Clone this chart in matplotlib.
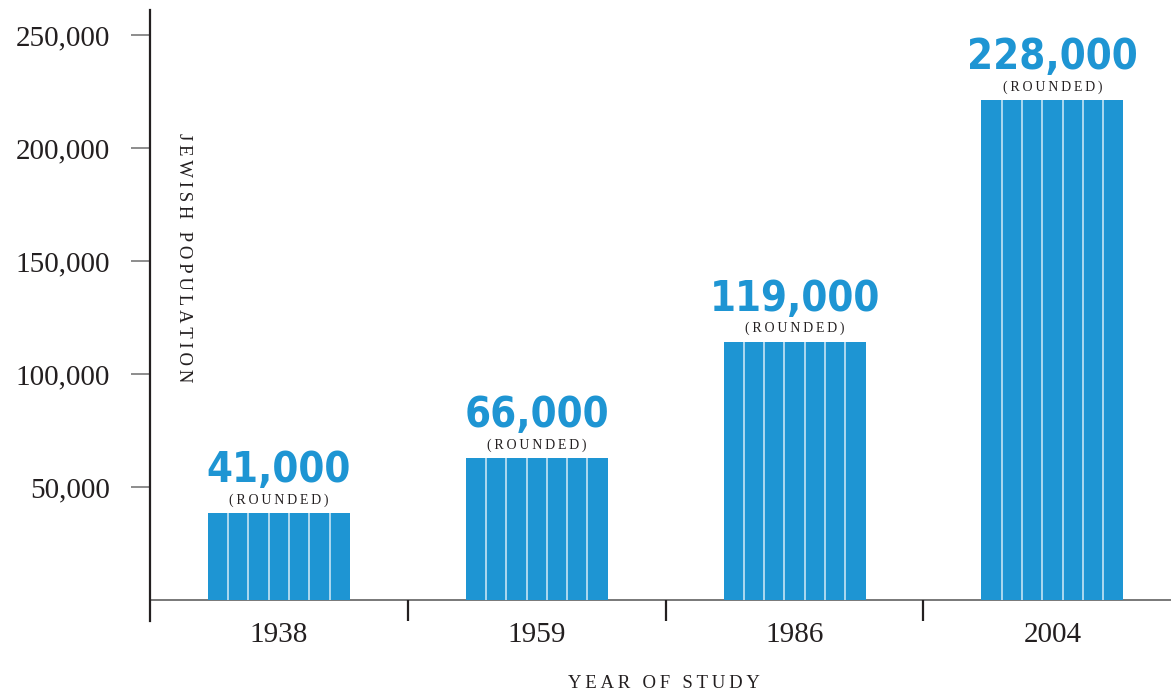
import numpy as np
import matplotlib.pyplot as plt

# data
years = ['1938', '1959', '1986', '2004']
bar_heights = [38500, 62800, 114200, 221200]
value_labels = ['41,000', '66,000', '119,000', '228,000']
y_ticks = [50000, 100000, 150000, 200000, 250000]
y_tick_labels = ['50,000', '100,000', '150,000', '200,000', '250,000']

blue = '#1e95d3'
ink = '#231f20'
serif = ['Liberation Serif', 'DejaVu Serif']

plt.rcParams['font.family'] = serif


def spaced(s):
    # letter-spaced caps, like the original typesetting
    return '\u2009'.join(s)


W, H = 1171, 692
fig = plt.figure(figsize=(W / 100, H / 100), dpi=100)
ax = fig.add_axes([150 / W, (H - 621) / H, 1021 / W, 611 / H])

ax.set_xlim(-0.5, 3.46)
ax.set_ylim(-9292, 261062)

for side in ['top', 'right', 'bottom']:
    ax.spines[side].set_visible(False)
ax.spines['left'].set_color('#231f20')
ax.spines['left'].set_linewidth(1.6)

# baseline and category separators
ax.axhline(0, color='#6d6d6d', lw=1.3, zorder=1)
x = np.arange(len(years))
ax.vlines(x[:-1] + 0.5, -9292, 0, color='#231f20', lw=1.6)

# bars with thin white dividers
bar_w = 0.551
ax.bar(x, bar_heights, width=bar_w, color=blue, zorder=2)
for xi, h in zip(x, bar_heights):
    xs = xi - bar_w / 2 + bar_w * np.arange(1, 7) / 7
    ax.vlines(xs, 0, h, color='#d4ebf7', lw=1.1, zorder=3)

    ax.annotate(value_labels[xi], (xi, h), xytext=(0, 22.3), textcoords='offset points',
                ha='center', va='baseline', fontsize=30, fontweight='bold',
                family='DejaVu Sans', fontstretch='condensed', color=blue)
    ax.annotate(spaced('(ROUNDED)'), (xi, h), xytext=(0, 9.5), textcoords='offset points',
                ha='center', va='center', fontsize=10, color=ink)

ax.set_yticks(y_ticks, y_tick_labels)
ax.tick_params(axis='y', length=13.7, width=1.1, color='#6d6d6d', pad=15,
               labelsize=21, labelcolor=ink)
ax.set_xticks(x, years)
ax.tick_params(axis='x', length=0, pad=1, labelsize=21, labelcolor=ink)

ax.text(0.503, -0.1097, spaced('YEAR OF STUDY'), transform=ax.transAxes,
        ha='center', va='baseline', fontsize=13.5, color=ink)
ax.text(0.0333, 0.594, spaced('JEWISH POPULATION'), transform=ax.transAxes,
        rotation=270, ha='center', va='center', fontsize=13.5, color=ink)

fig.savefig('out.png', dpi=100)
